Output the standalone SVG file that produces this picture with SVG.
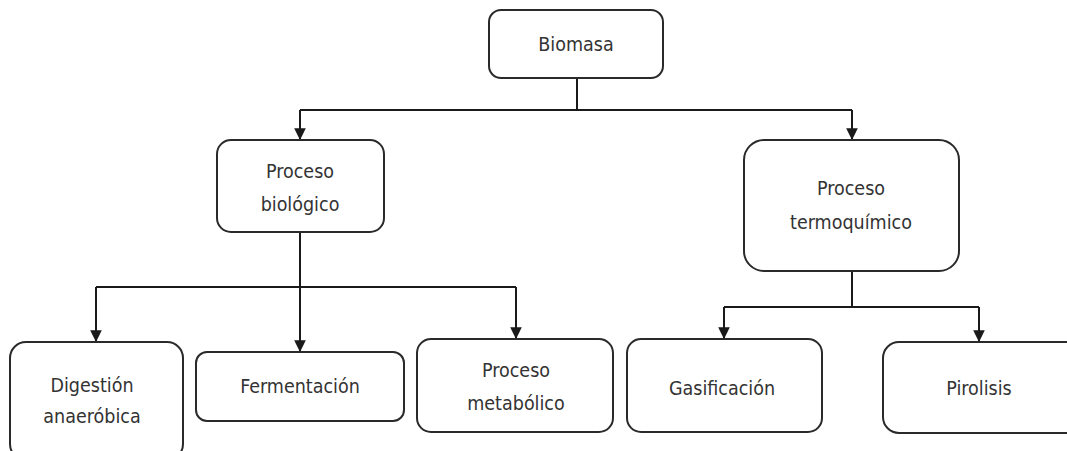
<svg xmlns="http://www.w3.org/2000/svg" width="1067" height="451" viewBox="0 0 1067 451">
<style>
.box{fill:#fff;stroke:#2a2a2a;stroke-width:2}
.t{font-family:"DejaVu Sans Condensed","DejaVu Sans",sans-serif;font-size:19.5px;fill:#333;text-anchor:middle}
.c{fill:none;stroke:#1a1a1a;stroke-width:2}
</style>
<defs>
<marker id="ah" viewBox="0 0 10 12" refX="10" refY="6" markerWidth="14" markerHeight="14" markerUnits="userSpaceOnUse" orient="auto">
<path d="M0,1 L10,6 L0,11 z" fill="#1a1a1a"/>
</marker>
</defs>
<rect width="1067" height="451" fill="#fff"/>
<g id="connectors">
<path class="c" d="M577,78 V110"/>
<path class="c" d="M300,110 H852"/>
<path class="c" d="M300,110 V140" marker-end="url(#ah)"/>
<path class="c" d="M852,110 V140" marker-end="url(#ah)"/>
<path class="c" d="M300,232 V287"/>
<path class="c" d="M96,287 H516"/>
<path class="c" d="M96,287 V342" marker-end="url(#ah)"/>
<path class="c" d="M300,287 V352" marker-end="url(#ah)"/>
<path class="c" d="M516,287 V339" marker-end="url(#ah)"/>
<path class="c" d="M852,271 V307"/>
<path class="c" d="M724,307 H979"/>
<path class="c" d="M724,307 V339" marker-end="url(#ah)"/>
<path class="c" d="M979,307 V342" marker-end="url(#ah)"/>
</g>
<g id="biomasa">
<rect class="box" x="489" y="10" width="174" height="68" rx="12"/>
<text class="t" x="576" y="51">Biomasa</text>
</g>
<g id="proceso-biologico">
<rect class="box" x="217" y="140" width="167" height="92" rx="14"/>
<text class="t" x="300" y="178">Proceso</text>
<text class="t" x="300" y="211">biológico</text>
</g>
<g id="proceso-termoquimico">
<rect class="box" x="744" y="140" width="215" height="131" rx="20"/>
<text class="t" x="851" y="195">Proceso</text>
<text class="t" x="851" y="229">termoquímico</text>
</g>
<g id="digestion">
<rect class="box" x="10" y="342" width="173" height="118" rx="16"/>
<text class="t" x="92" y="392">Digestión</text>
<text class="t" x="92" y="423">anaeróbica</text>
</g>
<g id="fermentacion">
<rect class="box" x="196" y="352" width="208" height="69" rx="11"/>
<text class="t" x="300" y="393">Fermentación</text>
</g>
<g id="proceso-metabolico">
<rect class="box" x="417" y="339" width="196" height="93" rx="14"/>
<text class="t" x="516" y="377">Proceso</text>
<text class="t" x="516" y="410">metabólico</text>
</g>
<g id="gasificacion">
<rect class="box" x="627" y="339" width="195" height="93" rx="14"/>
<text class="t" x="722" y="395">Gasificación</text>
</g>
<g id="pirolisis">
<rect class="box" x="883" y="342" width="200" height="91" rx="16"/>
<text class="t" x="979" y="395">Pirolisis</text>
</g>
</svg>
